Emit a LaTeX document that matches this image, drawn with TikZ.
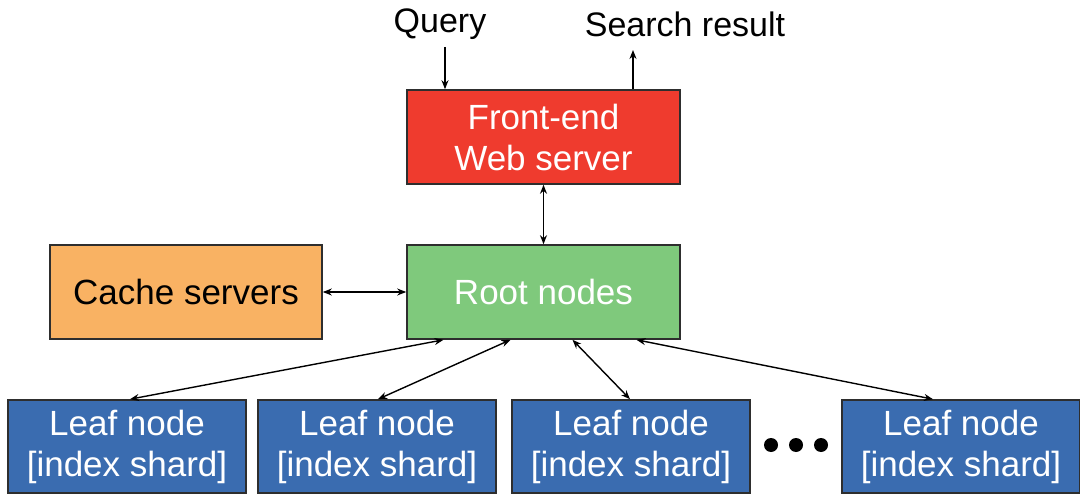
\documentclass[tikz,border=0pt]{standalone}
\usepackage{fontspec}
\setmainfont{Liberation Sans}
\usetikzlibrary{arrows.meta}
\definecolor{fered}{HTML}{EF3B2E}
\definecolor{rootgreen}{HTML}{7FC97C}
\definecolor{cacheorange}{HTML}{F9B263}
\definecolor{leafblue}{HTML}{3A6CB0}
\definecolor{edgegray}{HTML}{2E2E2E}
\tikzset{
  box/.style={draw=edgegray, line width=1.6pt, inner sep=0pt, align=center,
    font=\fontsize{35}{41}\selectfont},
  leafbox/.style={box, fill=leafblue, text=white, minimum width=238pt, minimum height=93pt},
  conn/.style={line width=1.4pt, {Stealth[length=9pt,width=7pt]}-{Stealth[length=9pt,width=7pt]}},
  oneway/.style={line width=1.4pt, -{Stealth[length=9pt,width=7pt]}},
  lbl/.style={font=\fontsize{34}{38}\selectfont, inner sep=0pt}
}
\begin{document}
\begin{tikzpicture}[x=1pt,y=-1pt]
\useasboundingbox (0,0) rectangle (1080,495);
\node[box, fill=fered, text=white, minimum width=273pt, minimum height=94pt] (fe) at (543.5,137) {Front-end\\Web server};
\node[box, fill=rootgreen, text=white, minimum width=273pt, minimum height=94pt] (root) at (543.5,292) {Root nodes};
\node[box, fill=cacheorange, text=black, minimum width=272pt, minimum height=94pt] (cache) at (186,292) {Cache servers};
\node[leafbox] (l1) at (127,446.5) {Leaf node\\{[index shard]}};
\node[leafbox] (l2) at (377,446.5) {Leaf node\\{[index shard]}};
\node[leafbox] (l3) at (631,446.5) {Leaf node\\{[index shard]}};
\node[leafbox] (l4) at (961,446.5) {Leaf node\\{[index shard]}};
\node[circle, fill=black, inner sep=0pt, minimum size=14pt] (d1) at (771,445) {};
\node[circle, fill=black, inner sep=0pt, minimum size=14pt] (d2) at (796,445) {};
\node[circle, fill=black, inner sep=0pt, minimum size=14pt] (d3) at (821,445) {};
\node[lbl] (q) at (440,24) {Query};
\node[lbl] (sr) at (685,24) {Search result};
\coordinate (qs) at (445,47);
\coordinate (srs) at (633,50);
\draw[oneway] (qs) -- (qs |- fe.north);
\draw[oneway] (srs |- fe.north) -- (srs);
\draw[conn] (fe.south) -- (root.north);
\draw[conn] (cache.east) -- (root.west);
\draw[conn] ([xshift=-100pt]root.south) -- ([xshift=3pt]l1.north);
\draw[conn] ([xshift=-33pt]root.south) -- ([xshift=1pt]l2.north);
\draw[conn] ([xshift=29pt]root.south) -- ([xshift=-1pt]l3.north);
\draw[conn] ([xshift=93pt]root.south) -- ([xshift=-28pt]l4.north);
\end{tikzpicture}
\end{document}
